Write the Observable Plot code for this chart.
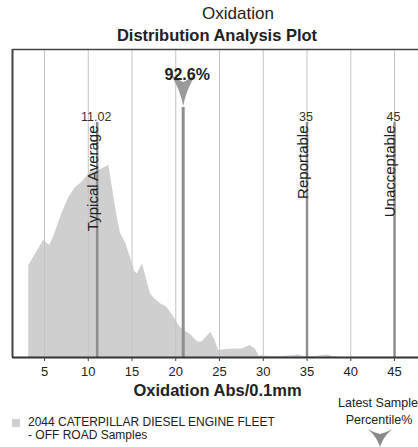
<!DOCTYPE html>
<html>
<head>
<meta charset="utf-8">
<script src="https://cdn.jsdelivr.net/npm/d3@7"></script>
<script src="https://cdn.jsdelivr.net/npm/@observablehq/plot@0.6"></script>
<style>
  html, body { margin: 0; padding: 0; background: #fff; }
  body { width: 418px; height: 447px; position: relative; overflow: hidden; font-family: "Liberation Sans", Arial, sans-serif; color: #222; }
  .abs { position: absolute; white-space: nowrap; }
  .c { transform: translate(-50%, -50%); }
  #chart { position: absolute; left: 0; top: 44px; }
</style>
</head>
<body>
<div class="abs c" style="left:238px; top:14px; font-size:17px;">Oxidation</div>
<div class="abs c" style="left:217px; top:35px; font-size:16.5px; font-weight:bold;">Distribution Analysis Plot</div>
<div id="chart"></div>
<div class="abs" style="left:12px; top:419px; width:8px; height:8px; background:#cfcfcf;"></div>
<div class="abs" style="left:28px; top:416px; font-size:12px; line-height:13px;">2044 CATERPILLAR DIESEL ENGINE FLEET<br>- OFF ROAD Samples</div>
<div class="abs c" style="left:378px; top:403px; font-size:12.5px;">Latest Sample</div>
<div class="abs c" style="left:379px; top:420px; font-size:12.5px;">Percentile%</div>
<svg class="abs" style="left:368px; top:429px; display:block;" width="24" height="18"><path d="M0,0 Q6,4 12,5 Q18,4 24,0 Q15,8 12,18 Q9,8 0,0Z" fill="#8a8a8a"/></svg>
<script>
// Distribution of samples (Oxidation Abs/0.1mm vs relative frequency)
const oxX = [3.2, 4.9, 5.6, 6.1, 7.0, 7.8, 8.5, 9.3, 10.3, 11.0, 11.6, 12.35, 12.75, 13.3, 13.7, 14.3, 14.8, 15.3, 15.6, 16.2, 16.7, 17.1, 17.6, 18.3, 19.0, 19.8, 20.5, 21.1, 21.7, 22.5, 23.0, 24.0, 24.5, 24.9, 25.5, 26.6, 27.6, 28.5, 29.1, 29.5, 30.5, 32.0, 33.5, 34.0, 34.5, 36.0, 37.3, 38.0, 39.0];
const oxY = [29.9, 38, 36.4, 39.6, 46.8, 52, 55, 57, 60.2, 60.7, 61.3, 62.3, 55.3, 45.6, 40.2, 37, 32.6, 28, 27.2, 30.4, 25, 20.7, 19, 17.4, 16.3, 13.1, 9.8, 8.5, 7.5, 5, 5, 8.2, 5.5, 2.3, 2.5, 2.8, 2.8, 3.9, 2.8, 0.6, 0.4, 0.3, 0.6, 0.9, 0.4, 0.3, 0.8, 0.3, 0];
const tickValues = [5, 10, 15, 20, 25, 30, 35, 40, 45];
const refValues = [11.02, 35, 45];
const refValueLabels = ["11.02", "35", "45"];
const refNames = ["Typical Average", "Reportable", "Unacceptable"];
const latestValue = 20.85;
const latestLabel = "92.6%";
const xDomain = [1.343, 47.74];

const dist = oxX.map((x, i) => ({x, y: oxY[i]}));
const refs = refValues.map((v, i) => ({v, value: refValueLabels[i], name: refNames[i]}));

const arrow = {
  draw(ctx, size) {
    const r = Math.sqrt(size / Math.PI);
    ctx.moveTo(-r, -1.2 * r);
    ctx.quadraticCurveTo(-0.45 * r, -0.75 * r, 0, -0.55 * r);
    ctx.quadraticCurveTo(0.45 * r, -0.75 * r, r, -1.2 * r);
    ctx.quadraticCurveTo(0.25 * r, -0.1 * r, 0, 1.2 * r);
    ctx.quadraticCurveTo(-0.25 * r, -0.1 * r, -r, -1.2 * r);
    ctx.closePath();
  }
};

const chart = Plot.plot({
  width: 418,
  height: 356,
  marginLeft: 12,
  marginRight: 0,
  marginTop: 5,
  marginBottom: 43,
  style: {fontFamily: "Liberation Sans, Arial, sans-serif", fontSize: "13px", color: "#333", overflow: "visible", background: "transparent"},
  x: {domain: xDomain},
  y: {domain: [0, 100], axis: null},
  marks: [
    Plot.areaY(dist, {x: "x", y: "y", fill: "#cfcfcf"}),
    Plot.ruleX(tickValues, {stroke: "#c4c4c4", strokeWidth: 1}),
    Plot.ruleX(refs, {x: "v", stroke: "#8e8e8e", strokeWidth: 2.5, insetTop: 73}),
    Plot.ruleX([latestValue], {stroke: "#8e8e8e", strokeWidth: 3, insetTop: 58}),
    Plot.text(refs, {x: "v", text: "value", frameAnchor: "top", dy: 63, fontSize: 12.5, fill: "#333", dx: -1}),
    Plot.text(refs, {x: "v", text: "name", frameAnchor: "top", dy: 76, dx: -10, rotate: -90, textAnchor: "end", fontSize: 15, fill: "#222"}),
    Plot.dot([latestValue], {x: d => d, frameAnchor: "top", dy: 40, r: 13.5, symbol: arrow, fill: "#9a9a9a", stroke: "none"}),
    Plot.text([latestLabel], {x: () => latestValue, text: d => d, frameAnchor: "top", dy: 19, dx: 4, fontSize: 16, fontWeight: "bold", fill: "#222"}),
    Plot.ruleY([100], {stroke: "#444", strokeWidth: 1.5}),
    Plot.ruleX([xDomain[0]], {stroke: "#444", strokeWidth: 2}),
    Plot.ruleY([0], {stroke: "#333", strokeWidth: 2}),
    Plot.axisX(tickValues, {tickSize: 4, tickPadding: 5, fontSize: 13, fill: "#222", stroke: "#444", label: null}),
    Plot.text(["Oxidation Abs/0.1mm"], {text: d => d, frameAnchor: "bottom", dy: 38, dx: 2, fontSize: 16.5, fontWeight: "bold", fill: "#222"})
  ]
});
document.getElementById("chart").appendChild(chart);
</script>
</body>
</html>
